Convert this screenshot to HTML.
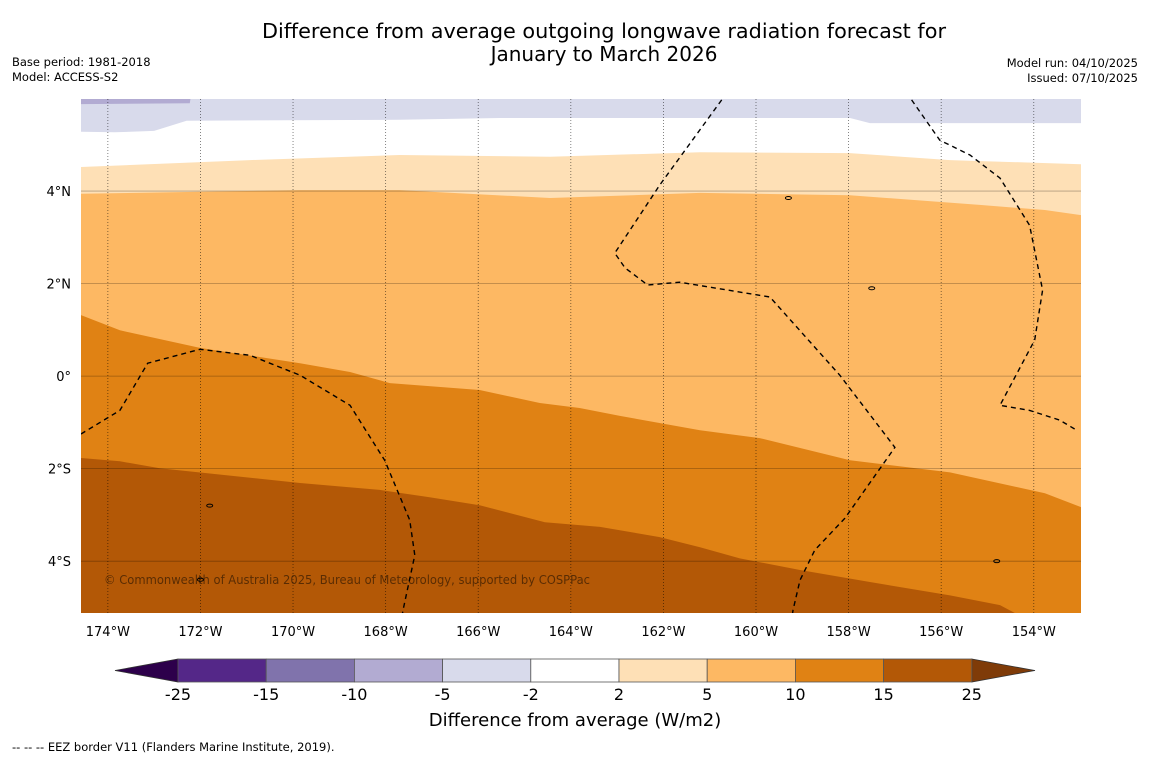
<!DOCTYPE html>
<html><head><meta charset="utf-8"><style>
body{margin:0;background:#fff;font-family:"DejaVu Sans","Liberation Sans",sans-serif;}
svg text{font-family:"DejaVu Sans","Liberation Sans",sans-serif;}
</style></head><body>
<svg id="chart" width="1150" height="758" viewBox="0 0 1150 758" xmlns="http://www.w3.org/2000/svg">
<rect width="1150" height="758" fill="#fff"/>
<text x="604" y="38" font-size="20" text-anchor="middle" textLength="684" lengthAdjust="spacingAndGlyphs">Difference from average outgoing longwave radiation forecast for</text>
<text x="604" y="61" font-size="20" text-anchor="middle">January to March 2026</text>
<text x="12" y="66" font-size="11.5">Base period: 1981-2018</text>
<text x="12" y="81" font-size="11.5">Model: ACCESS-S2</text>
<text x="1138" y="67" font-size="11.5" text-anchor="end">Model run: 04/10/2025</text>
<text x="1138" y="82" font-size="11.5" text-anchor="end">Issued: 07/10/2025</text>
<defs><clipPath id="mapclip"><rect x="81" y="99" width="1000" height="514"/></clipPath></defs>
<g id="map" clip-path="url(#mapclip)"></g>
<g id="axes"></g>
<g id="cbar"></g>
<text x="575" y="726" font-size="18" text-anchor="middle">Difference from average (W/m2)</text>
<text x="12" y="751" font-size="11.5">--  --  -- EEZ border V11 (Flanders Marine Institute, 2019).</text>
</svg>
<script>
// Map extent
const lonMin=-174.58, lonMax=-152.98, latMax=5.99, latMin=-5.12;
const lonTicks=[-174,-172,-170,-168,-166,-164,-162,-160,-158,-156,-154];
const latTicks=[4,2,0,-2,-4];
// Contour boundaries: [lon, lat]
const bLavTop=[[-174.58,5.88],[-172.23,5.9],[-172.2,6.1],[-174.58,6.1]];
const bLavBottom=[[-174.58,5.28],[-173.85,5.27],[-173.0,5.30],[-172.3,5.52],[-167.7,5.54],[-165.53,5.58],[-157.97,5.58],[-157.54,5.47],[-152.98,5.47]];
const bWhiteBottom=[[-174.58,4.52],[-170.93,4.67],[-167.7,4.78],[-164.45,4.74],[-161.21,4.84],[-157.97,4.82],[-155.81,4.67],[-152.98,4.58]];
const bLightBottom=[[-174.58,3.94],[-169.85,4.02],[-167.7,4.02],[-164.45,3.85],[-161.21,3.96],[-157.97,3.91],[-155.17,3.70],[-153.76,3.59],[-152.98,3.48]];
const bMedBottom=[[-174.58,1.32],[-173.74,0.99],[-172.01,0.61],[-169.85,0.28],[-168.77,0.09],[-167.91,-0.15],[-165.97,-0.30],[-164.67,-0.58],[-163.81,-0.69],[-162.94,-0.86],[-161.21,-1.17],[-159.92,-1.34],[-157.97,-1.82],[-155.81,-2.08],[-153.76,-2.53],[-152.98,-2.83]];
const bDarkBottom=[[-174.58,-1.77],[-173.74,-1.84],[-172.88,-1.99],[-169.85,-2.31],[-168.13,-2.46],[-167.05,-2.62],[-165.97,-2.79],[-164.56,-3.16],[-163.37,-3.26],[-162.08,-3.48],[-161.21,-3.70],[-160.35,-3.94],[-159.05,-4.19],[-157.54,-4.45],[-155.81,-4.74],[-154.73,-4.95],[-154.41,-5.12],[-152.98,-5.2]];
const eezA=[[-174.58,-1.25],[-173.74,-0.74],[-173.14,0.28],[-172.01,0.58],[-170.93,0.45],[-169.85,0.02],[-168.77,-0.63],[-168.02,-1.82],[-167.48,-3.11],[-167.37,-3.87],[-167.61,-4.99],[-167.65,-5.2]];
const eezB=[[-160.74,5.97],[-162.08,4.13],[-163.05,2.66],[-162.83,2.34],[-162.34,1.97],[-161.65,2.03],[-159.70,1.71],[-158.19,0.02],[-157.0,-1.54],[-158.08,-3.07],[-158.73,-3.76],[-159.05,-4.41],[-159.20,-5.06],[-159.22,-5.2]];
const eezC=[[-156.64,5.97],[-156.03,5.10],[-155.38,4.78],[-154.73,4.28],[-154.09,3.26],[-153.81,1.86],[-153.98,0.78],[-154.73,-0.63],[-154.09,-0.74],[-153.44,-0.95],[-153.07,-1.17]];
const cbLevels=["-25","-15","-10","-5","-2","2","5","10","15","25"];
const cbColors=["#542788","#8073ac","#b2abd2","#d8daeb","#ffffff","#fee0b6","#fdb863","#e08214","#b35806"];

const X0=81,X1=1081,Y0=99,Y1=613;
const x=lon=>X0+(lon-lonMin)/(lonMax-lonMin)*(X1-X0);
const y=lat=>Y0+(latMax-lat)/(latMax-latMin)*(Y1-Y0);
const NS="http://www.w3.org/2000/svg";
const map=document.getElementById('map'), axes=document.getElementById('axes'), cbar=document.getElementById('cbar');
function pts(a){return a.map(p=>x(p[0]).toFixed(1)+','+y(p[1]).toFixed(1)).join(' ');}
function mk(tag,attrs,parent){const e=document.createElementNS(NS,tag);for(const k in attrs)e.setAttribute(k,attrs[k]);parent.appendChild(e);return e;}
function band(boundary,color,name){
  const poly=boundary.concat([[lonMax+1,latMin-1],[lonMin-1,latMin-1]]);
  const e=mk('polygon',{points:pts(poly),fill:color},map);
  
  
}
const bg=mk('rect',{x:X0,y:Y0,width:X1-X0,height:Y1-Y0,fill:'#ffffff'},map);


band([[lonMin-1,latMax+1],[lonMax+1,latMax+1]],'#d8daeb','band-lavender');
band(bLavBottom,'#ffffff','band-white-zone');
band(bWhiteBottom,'#fee0b6','band-light-orange');
band(bLightBottom,'#fdb863','band-orange');
band(bMedBottom,'#e08214','band-dark-orange');
band(bDarkBottom,'#b35806','band-brown');
const lt=mk('polygon',{points:pts(bLavTop),fill:'#b2abd2'},map);


lonTicks.forEach(v=>{
  const l=mk('line',{x1:x(v),x2:x(v),y1:Y0,y2:Y1,stroke:'#000','stroke-opacity':0.6,'stroke-width':0.8,'stroke-dasharray':'1,2'},map);
  
  
  const t=mk('text',{x:x(v),y:636,'font-size':13,'text-anchor':'middle'},axes);
  t.textContent=Math.abs(v)+'°W';
  
  
});
latTicks.forEach(v=>{
  const l=mk('line',{x1:X0,x2:X1,y1:y(v),y2:y(v),stroke:'#000','stroke-opacity':0.3,'stroke-width':0.8},map);
  
  
  const t=mk('text',{x:71,y:y(v)+5,'font-size':13,'text-anchor':'end'},axes);
  t.textContent=v===0?'0°':Math.abs(v)+'°'+(v>0?'N':'S');
  
  
});
[eezA,eezB,eezC].forEach(a=>{
  const l=mk('polyline',{points:pts(a),fill:'none',stroke:'#000','stroke-width':1.4,'stroke-dasharray':'5,4'},map);
  
  
});
[[-159.3,3.85],[-157.5,1.9],[-171.8,-2.8],[-172.0,-4.4],[-154.8,-4.0]].forEach(p=>{
  const e=mk('ellipse',{cx:x(p[0]),cy:y(p[1]),rx:3,ry:1.5,fill:'none',stroke:'#000','stroke-width':1},map);
  
  
});
const cp=mk('text',{x:104,y:584,'font-size':12,fill:'#000','fill-opacity':0.5,textLength:486,lengthAdjust:'spacingAndGlyphs'},map);
cp.textContent='© Commonwealth of Australia 2025, Bureau of Meteorology, supported by COSPPac';


const cbX0=178,cbW=88.2,cbY=659,cbH=23;
const lTri=mk('polygon',{points:`${cbX0},${cbY} 115,${cbY+cbH/2} ${cbX0},${cbY+cbH}`,fill:'#2d004b',stroke:'#333','stroke-width':0.8},cbar);


const rx=cbX0+cbW*cbColors.length;
const rTri=mk('polygon',{points:`${rx},${cbY} 1035,${cbY+cbH/2} ${rx},${cbY+cbH}`,fill:'#7f3b08',stroke:'#333','stroke-width':0.8},cbar);


cbColors.forEach((c,i)=>{
  const r=mk('rect',{x:cbX0+i*cbW,y:cbY,width:cbW,height:cbH,fill:c,stroke:'#555','stroke-width':0.8},cbar);
  
  
});
cbLevels.forEach((s,i)=>{
  const t=mk('text',{x:cbX0+i*cbW,y:700,'font-size':16,'text-anchor':'middle'},cbar);
  t.textContent=s;
  
  
});
</script>
</body></html>
